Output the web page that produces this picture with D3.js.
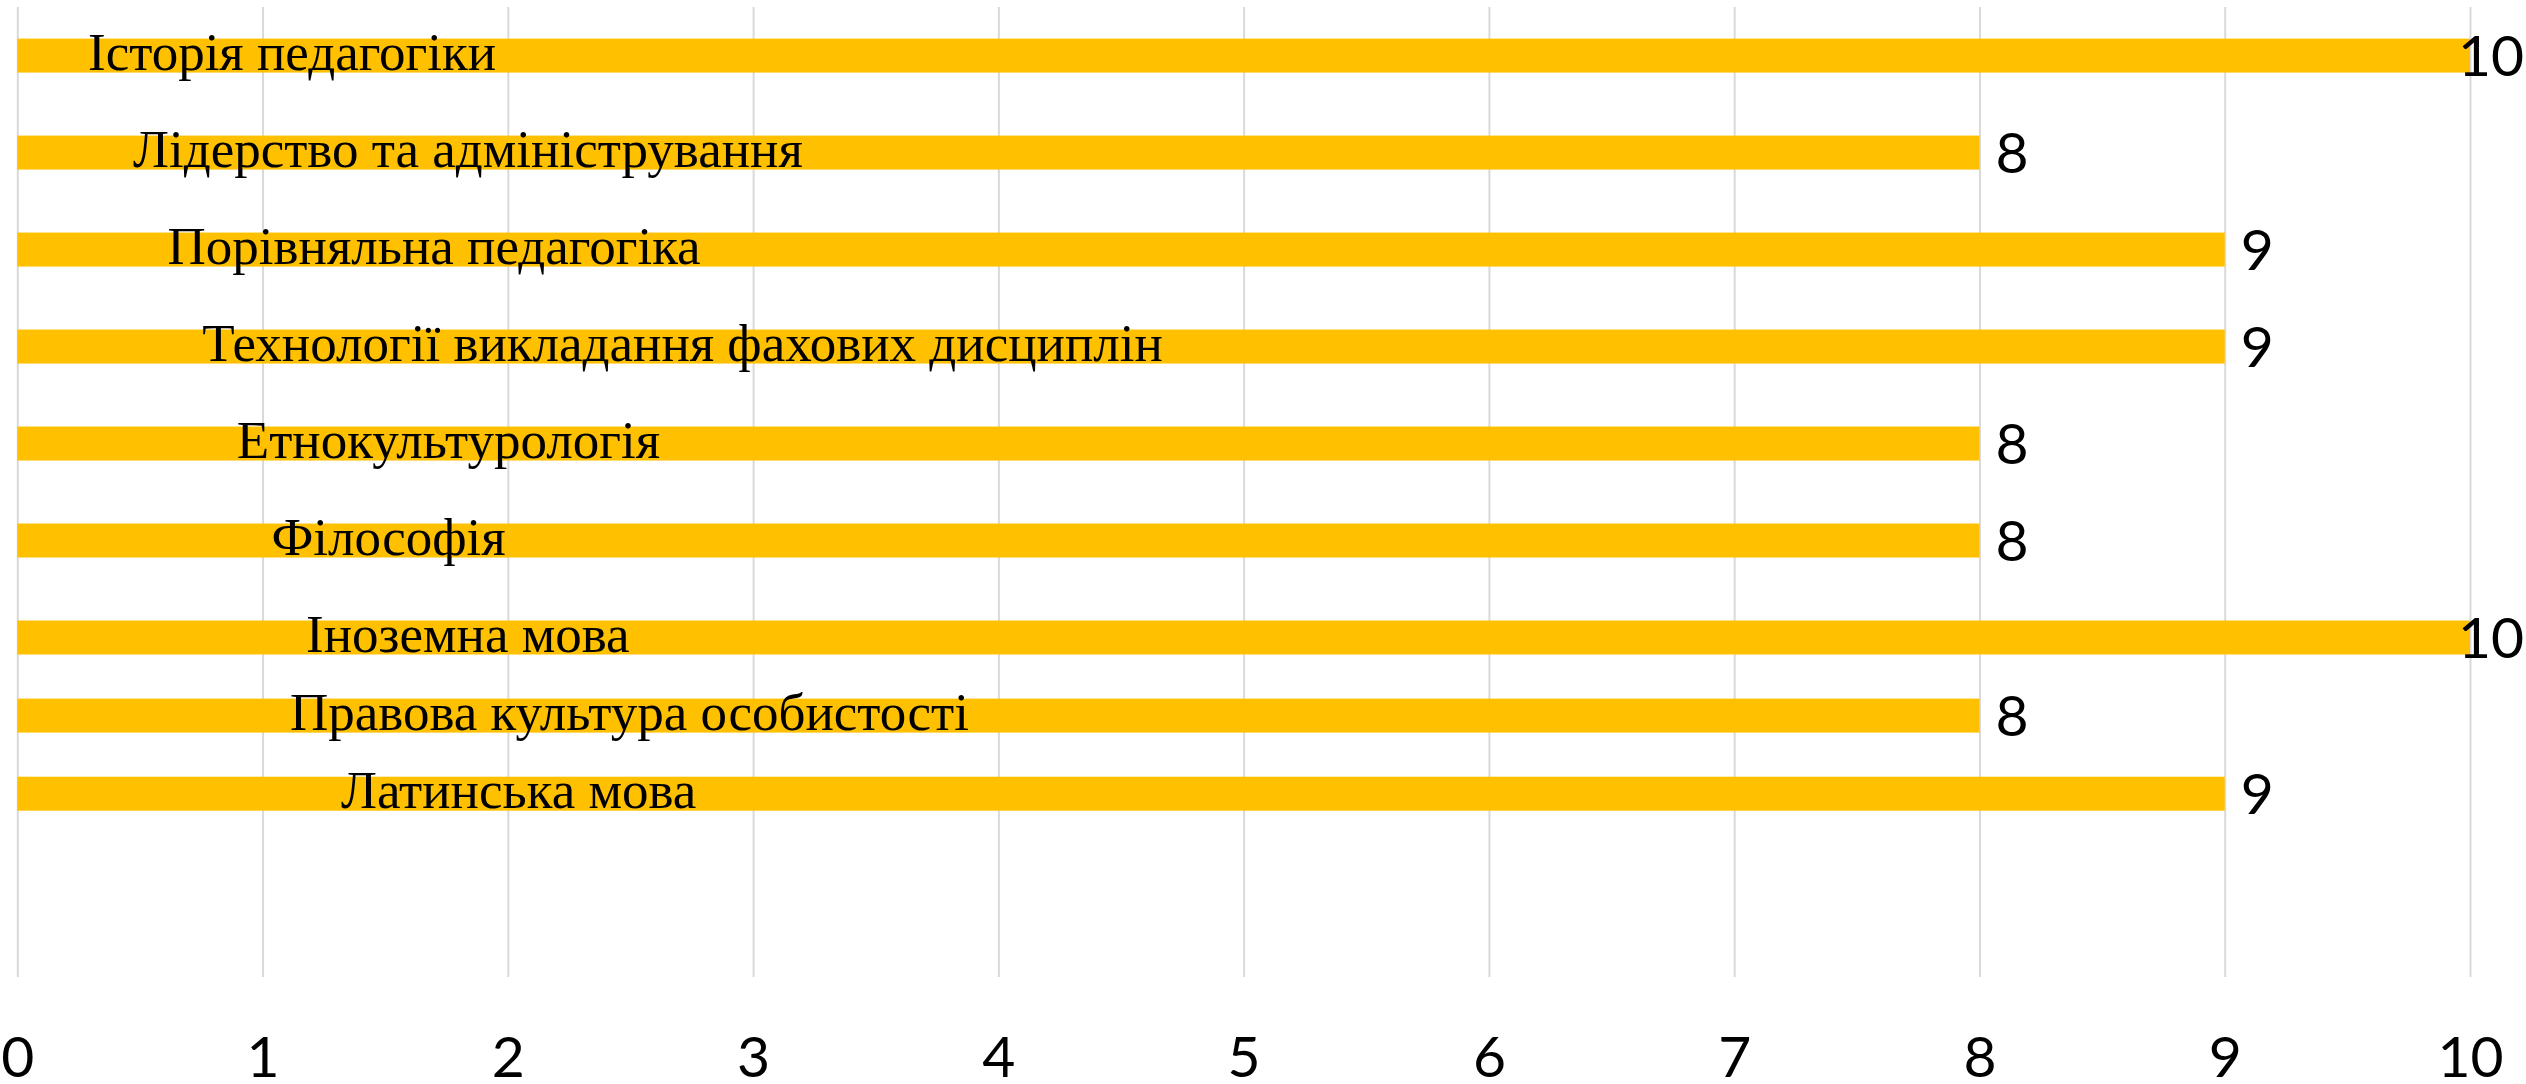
<!DOCTYPE html>
<html>
<head>
<meta charset="utf-8">
<script src="https://cdn.jsdelivr.net/npm/d3@7"></script>
<style>
  html, body { margin: 0; padding: 0; background: #ffffff; }
  svg { display: block; }
</style>
</head>
<body>
<svg id="chart" width="2526" height="1084"></svg>
<script>
// Дисципліни (top to bottom) and their scores
const categories = [
  "Історія педагогіки",
  "Лідерство та адміністрування",
  "Порівняльна педагогіка",
  "Технології викладання фахових дисциплін",
  "Етнокультурологія",
  "Філософія",
  "Іноземна мова",
  "Правова культура особистості",
  "Латинська мова"
];
const scores = [10, 8, 9, 9, 8, 8, 10, 8, 9];
const xTicks = [0, 1, 2, 3, 4, 5, 6, 7, 8, 9, 10];

const W = 2526, H = 1084;
const plot = { left: 17.3, right: 2470, top: 7, bottom: 977 };
const barH = 34;
const barColor = "#FFC000";
const gridColor = "#d9d9d9";
const numFont = "Lato, 'Open Sans', sans-serif";
const catFont = "'Liberation Serif', 'Times New Roman', serif";

const svg = d3.select("#chart");

const x = d3.scaleLinear().domain([0, 10]).range([plot.left, plot.right]);

// Row centres: even spacing for the upper rows, tighter for the last two
const yRow = d3.scaleLinear().domain([0, 6, 8]).range([55.6, 637.5, 793.7]);

// Category captions drift rightwards row by row
const labelX = d3.scaleLinear().domain([0, 1, 6, 7, 8]).range([88, 133, 306, 290, 341]);

// Vertical gridlines via the axis generator
const grid = d3.axisBottom(x)
  .tickValues(xTicks)
  .tickSize(-(plot.bottom - plot.top))
  .tickFormat("");
const gridG = svg.append("g")
  .attr("transform", `translate(0,${plot.bottom})`)
  .call(grid);
gridG.select(".domain").remove();
gridG.selectAll(".tick line")
  .attr("stroke", gridColor)
  .attr("stroke-width", 2);

// Bars
svg.append("g").selectAll("rect")
  .data(scores)
  .join("rect")
  .attr("x", x(0))
  .attr("y", (d, i) => yRow(i) - barH / 2)
  .attr("width", d => x(d) - x(0))
  .attr("height", barH)
  .attr("fill", barColor);

// Category captions drawn over the bars
svg.append("g").selectAll("text")
  .data(categories)
  .join("text")
  .attr("x", (d, i) => labelX(i))
  .attr("y", (d, i) => yRow(i) + 14)
  .attr("font-family", catFont)
  .attr("font-size", 53)
  .attr("fill", "#000")
  .text(d => d);

// Value labels at bar ends, kept inside the drawing
svg.append("g").selectAll("text")
  .data(scores)
  .join("text")
  .attr("y", (d, i) => yRow(i) + 20)
  .attr("font-family", numFont)
  .attr("font-size", 57)
  .attr("fill", "#000")
  .text(d => d)
  .each(function (d) {
    const t = d3.select(this);
    const w = this.getComputedTextLength();
    let px = x(d) + 16;
    if (px + w > W - 2) px = W - 2 - w;
    t.attr("x", px);
  });

// Axis tick labels
const axis = d3.axisBottom(x)
  .tickValues(xTicks)
  .tickSize(0)
  .tickPadding(0)
  .tickFormat(d3.format("d"));
const axisG = svg.append("g")
  .attr("transform", `translate(0,1077)`)
  .call(axis);
axisG.select(".domain").remove();
axisG.selectAll(".tick text")
  .attr("dy", 0)
  .attr("y", 0)
  .attr("font-family", numFont)
  .attr("font-size", 57)
  .attr("fill", "#000");
</script>
</body>
</html>
